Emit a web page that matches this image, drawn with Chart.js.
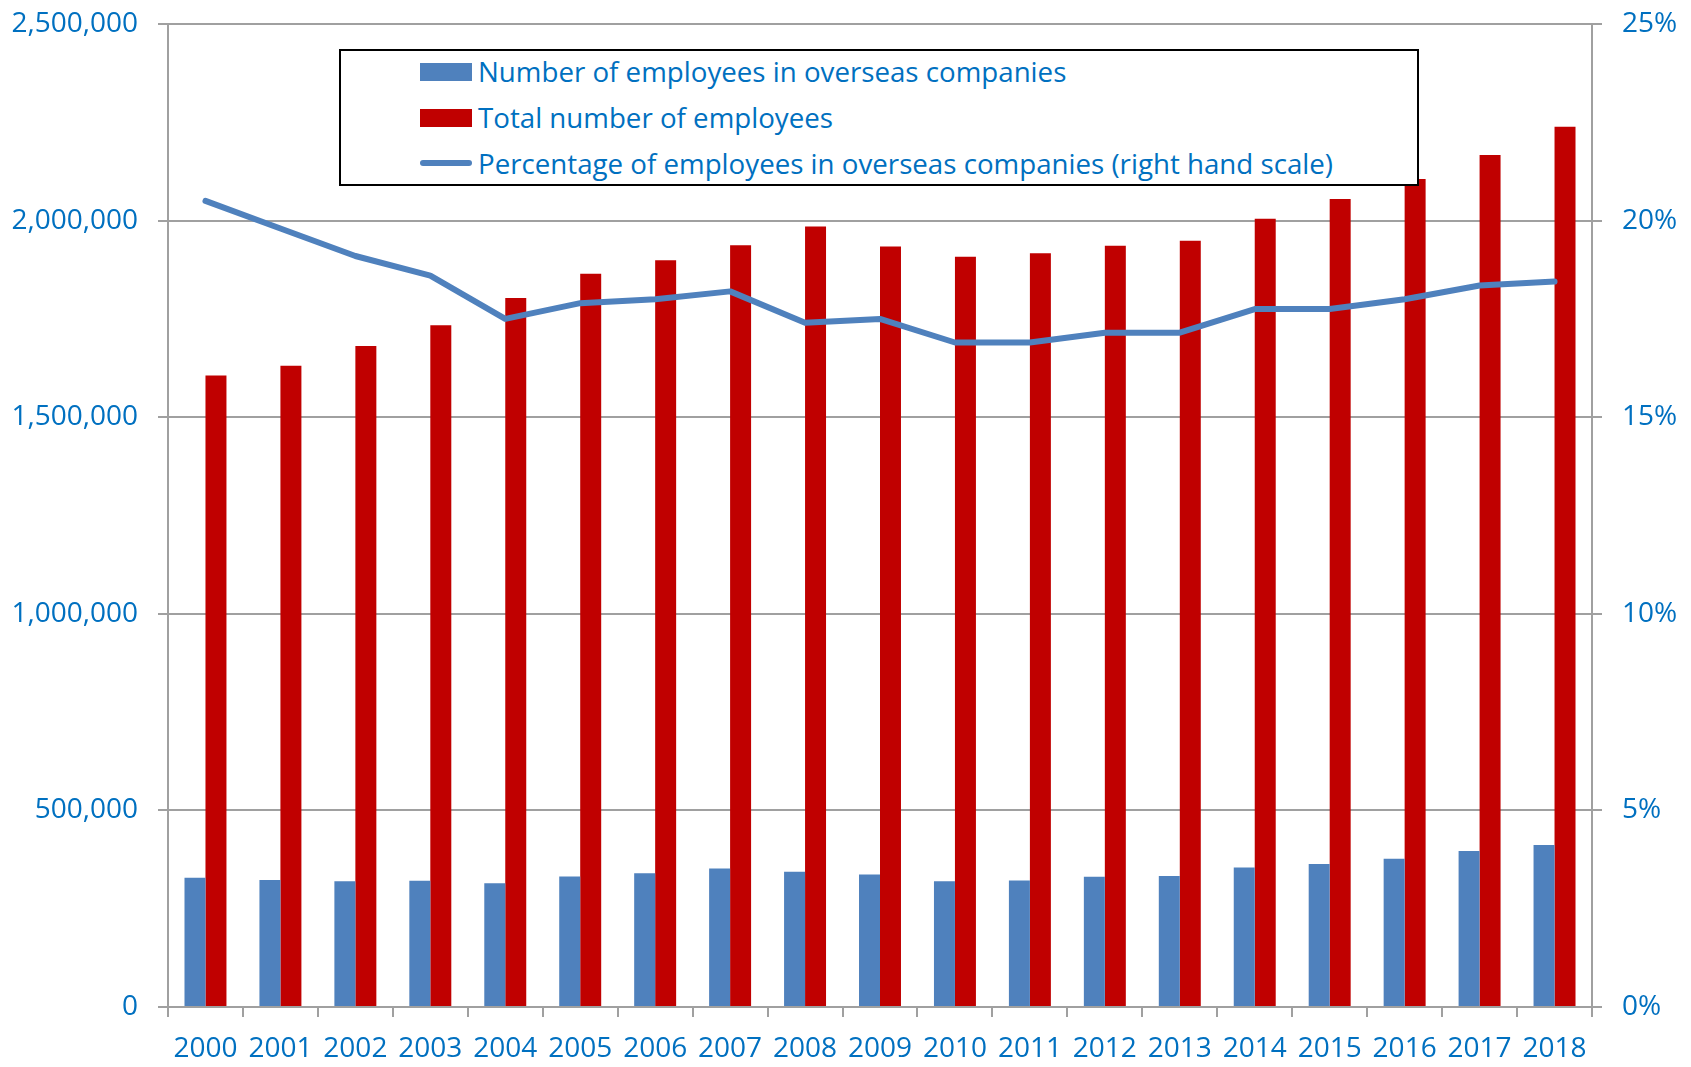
<!DOCTYPE html>
<html>
<head>
<meta charset="utf-8">
<script src="https://cdn.jsdelivr.net/npm/chart.js@4/dist/chart.umd.min.js"></script>
<style>
  body { margin: 0; background: #fff; }
  #wrap { position: relative; width: 1691px; height: 1067px; }
  #legenda {
    position: absolute; left: 339px; top: 49px; width: 1076px; height: 133px;
    border: 2px solid #000; background: #fff;
    font-family: "Open Sans", sans-serif; font-size: 27.7px; color: #0070c0;
  }
  .radek { position: absolute; left: 0; height: 36px; width: 100%; }
  .znacka { position: absolute; left: 79px; width: 52px; }
  .text { position: absolute; left: 137px; top: 0; line-height: 36px; white-space: nowrap; }
</style>
</head>
<body>
<div id="wrap">
  <canvas id="graf" width="1691" height="1067"></canvas>
  <div id="legenda">
    <div class="radek" style="top: 2px;">
      <div class="znacka" style="top: 10px; height: 18px; background: #4f81bd;"></div>
      <div class="text">Number of employees in overseas companies</div>
    </div>
    <div class="radek" style="top: 48px;">
      <div class="znacka" style="top: 10px; height: 18px; background: #c00000;"></div>
      <div class="text">Total number of employees</div>
    </div>
    <div class="radek" style="top: 94px;">
      <div class="znacka" style="top: 15px; height: 6px; border-radius: 3px; background: #4f81bd;"></div>
      <div class="text">Percentage of employees in overseas companies (right hand scale)</div>
    </div>
  </div>
</div>
<script>
// data
const roky = ["2000", "2001", "2002", "2003", "2004", "2005", "2006", "2007", "2008", "2009",
              "2010", "2011", "2012", "2013", "2014", "2015", "2016", "2017", "2018"];
const zahranicni = [329000, 323000, 320000, 321000, 315000, 332000, 340000, 352000, 344000, 337000,
                    320000, 322000, 331000, 333000, 355000, 364000, 377000, 397000, 412000];
const celkem = [1606000, 1631000, 1681000, 1734000, 1803000, 1865000, 1899000, 1937000, 1985000, 1934000,
                1908000, 1917000, 1936000, 1949000, 2005000, 2055000, 2106000, 2167000, 2239000];
const procenta = [20.5, 19.8, 19.1, 18.6, 17.5, 17.9, 18.0, 18.2, 17.4, 17.5,
                  16.9, 16.9, 17.15, 17.15, 17.75, 17.75, 18.0, 18.35, 18.45];
const levaOsaMax = 2500000;
const levaOsaKrok = 500000;
const pravaOsaMax = 25;
const pravaOsaKrok = 5;

const modra = "#4f81bd";
const cervena = "#c00000";
const barvaTextu = "#0070c0";
const seda = "#a0a0a0";
const pismo = { family: "Open Sans", size: 28 };

// svislé osy: pevná šířka a žádné extra odsazení nahoře
function pevnaOsa(sirka) {
    return function(osa) {
        osa.width = sirka;
        osa.paddingTop = 0;
        osa.paddingBottom = 0;
    };
}

const ctx = document.getElementById("graf").getContext("2d");
new Chart(ctx, {
    type: "bar",
    data: {
        labels: roky,
        datasets: [
            {
                type: "line", label: "Percentage of employees in overseas companies (right hand scale)",
                data: procenta, yAxisID: "y1", borderColor: modra, borderWidth: 6,
                pointRadius: 0, tension: 0, order: 0, borderCapStyle: "round", borderJoinStyle: "round"
            },
            {
                label: "Number of employees in overseas companies", data: zahranicni,
                backgroundColor: modra, yAxisID: "y", order: 1,
                categoryPercentage: 0.56, barPercentage: 1.0
            },
            {
                label: "Total number of employees", data: celkem,
                backgroundColor: cervena, yAxisID: "y", order: 2,
                categoryPercentage: 0.56, barPercentage: 1.0
            }
        ]
    },
    options: {
        responsive: false,
        animation: false,
        layout: { padding: { top: 24, left: 0, right: 0, bottom: 0 } },
        plugins: { legend: { display: false }, tooltip: { enabled: false } },
        scales: {
            x: {
                offset: true,
                grid: { display: true, drawOnChartArea: false, offset: true, tickLength: 10, color: seda, lineWidth: 2 },
                border: { color: seda, width: 2 },
                ticks: { color: barvaTextu, font: pismo, padding: 15, maxRotation: 0, autoSkip: false },
                afterFit: function(osa) { osa.height = 60; }
            },
            y: {
                position: "left", min: 0, max: levaOsaMax,
                grid: { color: seda, lineWidth: 2, tickLength: 10 },
                border: { color: seda, width: 2 },
                ticks: {
                    stepSize: levaOsaKrok, color: barvaTextu, font: pismo, padding: 20,
                    callback: function(v) { return v.toLocaleString("en-US"); }
                },
                afterFit: pevnaOsa(168)
            },
            y1: {
                position: "right", min: 0, max: pravaOsaMax,
                grid: { drawOnChartArea: false, color: seda, lineWidth: 2, tickLength: 10 },
                border: { color: seda, width: 2 },
                ticks: {
                    stepSize: pravaOsaKrok, color: barvaTextu, font: pismo, padding: 20,
                    callback: function(v) { return v + "%"; }
                },
                afterFit: pevnaOsa(99)
            }
        }
    }
});
</script>
</body>
</html>
